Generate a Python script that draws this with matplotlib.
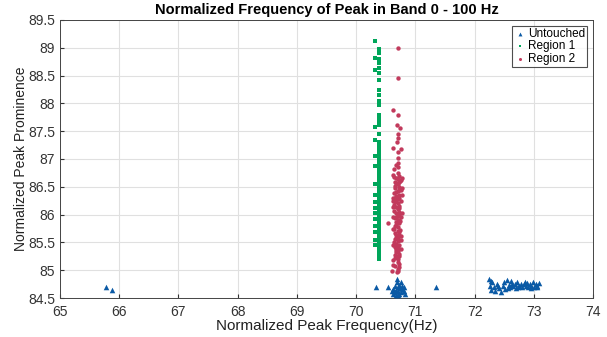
import matplotlib
matplotlib.use("Agg")
import matplotlib.pyplot as plt

plt.rcParams['font.family'] = ['Liberation Sans', 'DejaVu Sans']

# Untouched
untouched_x = [65.78, 65.87, 70.34,
               70.53, 70.60, 70.62, 70.63, 70.65, 70.66, 70.67, 70.68, 70.69, 70.70, 70.71, 70.72,
               70.73, 70.74, 70.75, 70.76, 70.77, 70.78, 70.80, 70.81, 70.82, 70.69, 70.70,
               71.35,
               72.25, 72.26, 72.27, 72.30, 72.32, 72.35, 72.38, 72.42, 72.45, 72.48, 72.50, 72.52,
               72.55, 72.58, 72.60, 72.62, 72.65, 72.68, 72.70, 72.72, 72.75, 72.78, 72.80, 72.83,
               72.86, 72.88, 72.90, 72.93, 72.96, 72.98, 73.00, 73.03, 73.06, 73.08, 72.28, 72.40,
               72.57, 72.63, 72.73, 72.85, 72.95, 73.05]
untouched_y = [84.69, 84.65, 84.70,
               84.70, 84.62, 84.58, 84.67, 84.72, 84.60, 84.55, 84.65, 84.78, 84.70, 84.62, 84.57,
               84.74, 84.68, 84.60, 84.78, 84.66, 84.72, 84.63, 84.70, 84.58, 84.84, 84.55,
               84.69,
               84.84, 84.72, 84.65, 84.78, 84.70, 84.62, 84.75, 84.68, 84.60, 84.72, 84.78, 84.66,
               84.82, 84.74, 84.70, 84.80, 84.72, 84.76, 84.68, 84.78, 84.72, 84.76, 84.70, 84.75,
               84.72, 84.77, 84.70, 84.75, 84.72, 84.78, 84.70, 84.75, 84.72, 84.77, 84.80, 84.72,
               84.68, 84.75, 84.70, 84.78, 84.68, 84.70]

# Region 1
region1_x = [70.38, 70.38, 70.38, 70.38, 70.38, 70.38, 70.38, 70.38, 70.38, 70.38,
             70.38, 70.38, 70.38, 70.38, 70.38, 70.38, 70.38, 70.38, 70.38, 70.38,
             70.38, 70.38, 70.38, 70.38, 70.38, 70.38, 70.38, 70.38, 70.38, 70.38,
             70.38, 70.38, 70.38, 70.38, 70.38, 70.38, 70.38, 70.38, 70.38, 70.38,
             70.38, 70.38, 70.38, 70.38, 70.38, 70.38, 70.38, 70.38, 70.38, 70.38,
             70.38, 70.38, 70.38, 70.38, 70.38, 70.38,
             70.38, 70.38, 70.38, 70.38, 70.38, 70.38, 70.38, 70.38, 70.38, 70.38,
             70.32, 70.32, 70.32, 70.32, 70.32, 70.32, 70.32, 70.32, 70.32, 70.32,
             70.32, 70.32, 70.32, 70.32, 70.32, 70.32, 70.32]
region1_y = [88.97, 88.90, 88.80, 88.72, 88.64, 88.55, 88.42, 88.24, 88.15, 88.05,
             87.97, 87.80, 87.75, 87.68, 87.62, 87.45, 87.30, 87.25, 87.15, 87.10,
             87.05, 87.00, 86.95, 86.90, 86.85, 86.80, 86.75, 86.70, 86.65, 86.60,
             86.55, 86.50, 86.45, 86.40, 86.35, 86.30, 86.25, 86.20, 86.15, 86.10,
             86.05, 86.00, 85.95, 85.90, 85.85, 85.80, 85.70, 85.65, 85.60, 85.50,
             85.45, 85.40, 85.35, 85.30, 85.25, 85.20,
             87.20, 86.98, 86.72, 86.48, 86.28, 86.08, 85.88, 85.75, 85.55, 85.42,
             89.12, 88.82, 88.60, 87.58, 87.35, 87.05, 86.88, 86.55, 86.35, 86.22,
             86.12, 86.02, 85.92, 85.80, 85.68, 85.55, 85.45]

# Region 2
region2_x = [70.70, 70.70, 70.63, 70.70, 70.69, 70.74, 70.70, 70.69, 70.63, 70.76,
             70.70, 70.70, 70.70, 70.70, 70.64, 70.70, 70.72, 70.68, 70.75, 70.65,
             70.70, 70.72, 70.66, 70.75, 70.70, 70.64, 70.72, 70.68, 70.70, 70.76,
             70.65, 70.70, 70.73, 70.67, 70.70, 70.64, 70.72, 70.68, 70.70, 70.75,
             70.66, 70.70, 70.54, 70.72, 70.68, 70.70, 70.64, 70.74, 70.70, 70.66,
             70.72, 70.70, 70.65, 70.75, 70.70, 70.68, 70.72, 70.65, 70.70, 70.76,
             70.70, 70.67, 70.72, 70.70, 70.65, 70.70, 70.70, 70.66, 70.72, 70.70,
             70.60, 70.69, 70.64, 70.74, 70.66, 70.68, 70.72, 70.64, 70.70, 70.74,
             70.66, 70.72, 70.68, 70.64, 70.70, 70.76, 70.66, 70.72, 70.68, 70.70,
             70.62, 70.67, 70.73, 70.78, 70.62, 70.67, 70.73, 70.78, 70.62, 70.67,
             70.73, 70.78, 70.62, 70.67, 70.73, 70.62, 70.67, 70.73, 70.62, 70.67,
             70.73, 70.62, 70.67, 70.73, 70.78, 70.62, 70.70, 70.67, 70.62, 70.70]
region2_y = [89.00, 88.45, 87.88, 87.80, 87.62, 87.55, 87.38, 87.30, 87.20, 87.18,
             87.12, 87.02, 86.92, 86.85, 86.82, 86.75, 86.70, 86.65, 86.62, 86.58,
             86.55, 86.50, 86.47, 86.45, 86.42, 86.38, 86.35, 86.32, 86.28, 86.25,
             86.22, 86.20, 86.16, 86.13, 86.10, 86.07, 86.05, 86.02, 85.98, 85.95,
             85.93, 85.90, 85.85, 85.85, 85.82, 85.78, 85.75, 85.72, 85.70, 85.67,
             85.63, 85.60, 85.57, 85.55, 85.52, 85.48, 85.45, 85.42, 85.40, 85.38,
             85.35, 85.32, 85.30, 85.25, 85.22, 85.20, 85.15, 85.08, 85.05, 84.98,
             84.98, 84.96, 86.68, 86.60, 86.52, 86.40, 86.30, 86.18, 86.00, 85.88,
             85.80, 85.68, 85.58, 85.50, 85.43, 85.62, 85.28, 85.12, 86.90, 87.45,
             86.72, 86.56, 86.44, 86.35, 86.30, 86.26, 86.12, 86.02, 85.96, 85.86,
             85.90, 86.48, 85.74, 85.64, 85.54, 85.46, 85.36, 85.25, 85.18, 85.40,
             86.00, 86.24, 86.34, 86.58, 86.66, 86.14, 86.64, 85.96, 85.10, 85.02]

xticks = [65, 66, 67, 68, 69, 70, 71, 72, 73, 74]
yticks = [84.5, 85, 85.5, 86, 86.5, 87, 87.5, 88, 88.5, 89, 89.5]
ytick_labels = ['84.5', '85', '85.5', '86', '86.5', '87', '87.5', '88', '88.5', '89', '89.5']

blue = '#0b5aa5'
green = '#00a65a'
red = '#c23a5c'

fig = plt.figure(figsize=(6.07, 3.37), dpi=100)
ax = fig.add_axes([0.0988, 0.1157, 0.8782, 0.825])

ax.scatter(untouched_x, untouched_y, marker='^', s=16, color=blue, linewidths=0, label='Untouched', zorder=3)
ax.scatter(region1_x, region1_y, marker='s', s=8, color=green, linewidths=0, label='Region 1', zorder=3)
ax.scatter(region2_x, region2_y, marker='o', s=10, color=red, linewidths=0, label='Region 2', zorder=3)

ax.set_xlim(65, 74)
ax.set_ylim(84.5, 89.5)
ax.set_xticks(xticks)
ax.set_yticks(yticks)
ax.set_yticklabels(ytick_labels)
ax.grid(True, color='#e0e0e0', linewidth=0.8)
ax.set_axisbelow(True)
ax.tick_params(direction='in', length=3, labelsize=10, colors='#333333', labelcolor='#333333')
ax.tick_params(axis='x', pad=5)
for sp in ax.spines.values():
    sp.set_color('#444444')
    sp.set_linewidth(0.7)

ax.set_xlabel('Normalized Peak Frequency(Hz)', fontsize=11, labelpad=0, color='#222222')
ax.set_ylabel('Normalized Peak Prominence', fontsize=10, labelpad=0, color='#222222')
ax.set_title('Normalized Frequency of Peak in Band 0 - 100 Hz', fontsize=10.5, fontweight='bold', pad=4)

leg = ax.legend(loc='upper right', fontsize=8.5, frameon=True, fancybox=False,
                borderpad=0.15, labelspacing=0.05, handletextpad=0.2, handlelength=1.0,
                borderaxespad=0.5, markerscale=0.7)
leg.get_frame().set_edgecolor('#222222')
leg.get_frame().set_linewidth(0.8)

fig.savefig('out.png', dpi=100)
